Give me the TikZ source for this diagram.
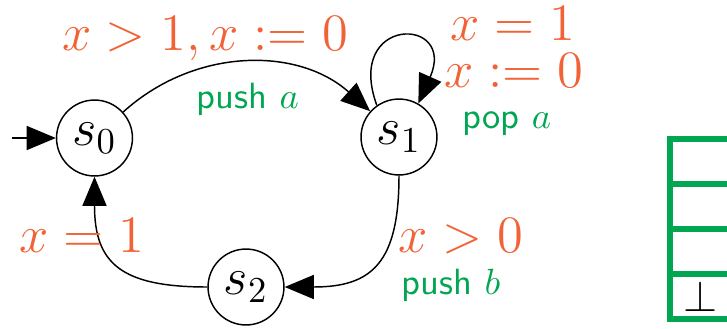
\documentclass[tikz,border=0pt]{standalone}
\usetikzlibrary{arrows.meta}
\definecolor{guardc}{RGB}{241,99,55}
\definecolor{stackc}{RGB}{0,166,81}
\begin{document}
\begin{tikzpicture}[x=0.274pt,y=0.274pt,
  state/.style={draw,circle,line width=0.4pt,minimum size=20.8pt,inner sep=0pt,font=\Large},
  conn/.style={line width=0.4pt,-{Triangle[length=8pt,width=6.6pt]}},
  guard/.style={text=guardc,font=\Large,anchor=base,inner sep=0pt},
  act/.style={text=stackc,font=\sffamily,anchor=base,inner sep=0pt},
  stackline/.style={draw=stackc,line width=1.4pt}]
\useasboundingbox (0,0) rectangle (727,328);
\clip (0,0) rectangle (727,328);
\node[state] (s0) at (94.5,190) {$s_0$};
\node[state] (s1) at (399,191) {$s_1$};
\node[state] (s2) at (246,41) {$s_2$};
\coordinate (init) at (12,190);
\draw[conn] (init) -- (s0);
\draw[conn] (s0) to[bend left=42] (s1);
\draw[conn] (s1.125) .. controls +(110:96) and +(66:96) .. (s1.60);
\draw[conn] (s1) to[out=-90,in=0,looseness=1.4] (s2);
\draw[conn] (s2) to[out=180,in=-90,looseness=1.4] (s0);
\node[guard] (g1) at (205,278) {$x>1, x:=0$};
\node[act] (a1) at (248,220) {push $a$};
\node[guard] (g2) at (513,288) {$x=1$};
\node[guard] (g3) at (514,241) {$x:=0$};
\node[act] (a2) at (507,200) {pop $a$};
\node[guard] (g4) at (82,76) {$x=1$};
\node[guard] (g5) at (461,76) {$x>0$};
\node[act] (a3) at (451,34) {push $b$};
\draw[stackline] (670,189) rectangle (740,9);
\draw[stackline] (670,144) -- (740,144);
\draw[stackline] (670,99) -- (740,99);
\draw[stackline] (670,54) -- (740,54);
\node[font=\large,anchor=base,inner sep=0pt] (bot) at (701,17) {$\bot$};
\end{tikzpicture}
\end{document}
